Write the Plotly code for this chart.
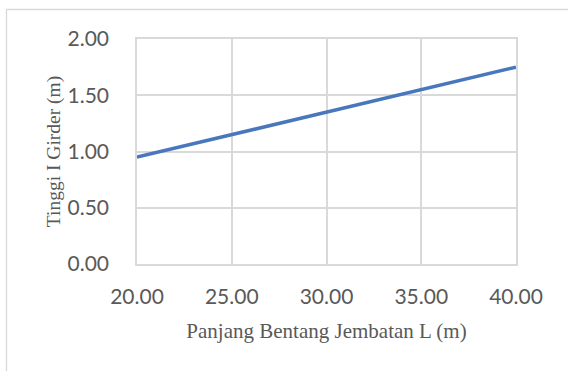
import plotly.graph_objects as go

# Span length L (m) and corresponding I-girder height (m)
span_length = [20.0, 25.0, 30.0, 35.0, 40.0]
girder_height = [0.95, 1.15, 1.35, 1.55, 1.75]

x_title = "Panjang Bentang Jembatan L (m)"
y_title = "Tinggi I Girder (m)"

W, H = 568, 371
L, R, T, B = 137, 52, 39, 107
pw, ph = W - L - R, H - T - B

def px_to_paper_x(px):
    return (px - L) / pw

def px_to_paper_y(py):
    return (H - B - py) / ph

fig = go.Figure()
fig.add_trace(go.Scatter(
    x=span_length, y=girder_height, mode="lines",
    line=dict(color="#4877bd", width=3.5),
    hoverinfo="skip", showlegend=False,
))

grid = "#d9d9d9"
tick_font = dict(family="Lato, 'Open Sans', sans-serif", size=21, color="#595959")
serif = "'Liberation Serif', 'Times New Roman', serif"

fig.update_layout(
    width=W, height=H,
    margin=dict(l=L, r=R, t=T, b=B, pad=0),
    paper_bgcolor="white", plot_bgcolor="white",
    xaxis=dict(
        range=[20, 40], dtick=5, tick0=20, tickformat=".2f",
        showgrid=True, gridcolor=grid, gridwidth=1.5,
        showline=True, linecolor=grid, linewidth=1.5, mirror=True,
        zeroline=False, tickfont=tick_font, ticklabelstandoff=13,
        title=dict(text=x_title, font=dict(family=serif, size=21, color="#595959"), standoff=16),
        fixedrange=True,
    ),
    yaxis=dict(
        range=[0, 2], dtick=0.5, tick0=0, tickformat=".2f",
        showgrid=True, gridcolor=grid, gridwidth=1.5,
        showline=True, linecolor=grid, linewidth=1.5, mirror=True,
        zeroline=False, tickfont=tick_font, ticklabelstandoff=22,
        title=dict(text=y_title, font=dict(family=serif, size=19.5, color="#595959"), standoff=2),
        fixedrange=True,
    ),
    shapes=[dict(
        type="rect", xref="paper", yref="paper",
        x0=px_to_paper_x(6.5), x1=px_to_paper_x(W + 10),
        y0=px_to_paper_y(H + 10), y1=px_to_paper_y(9.5),
        line=dict(color="#d9d9d9", width=1.3), fillcolor="rgba(0,0,0,0)",
        layer="below",
    )],
)

fig.write_html("out.html", config=dict(displayModeBar=False))
